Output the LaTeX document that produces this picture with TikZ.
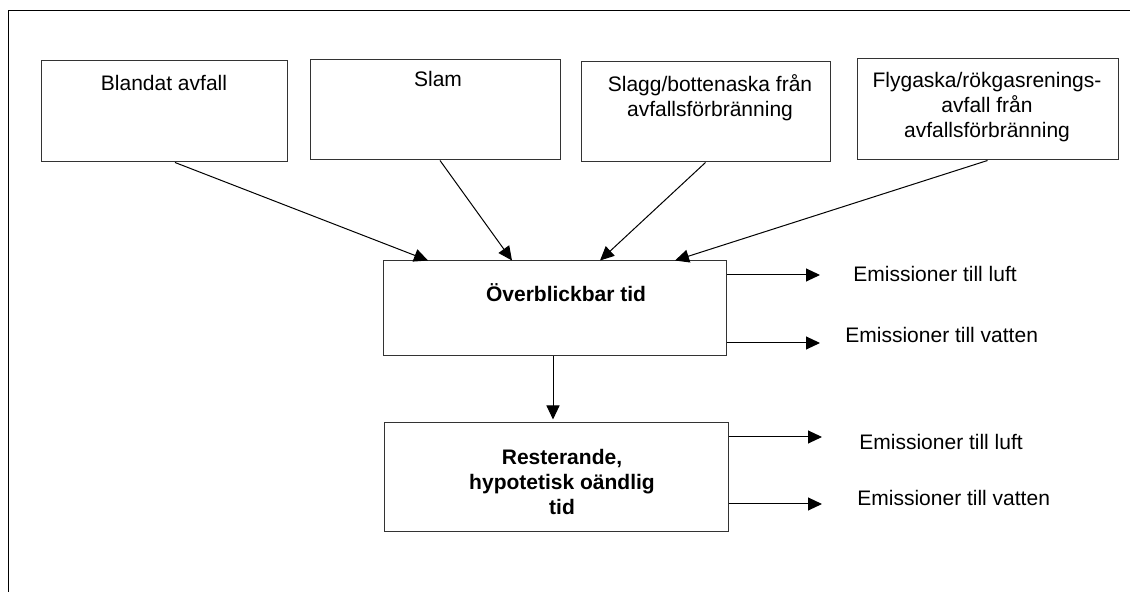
\documentclass[tikz,border=0pt]{standalone}
\usepackage{fontspec}
\setmainfont{Liberation Sans}
\usepackage{tikz}
\usetikzlibrary{shapes,arrows}
\usetikzlibrary{arrows.meta}
\usetikzlibrary{calc}

\begin{document}
\begin{tikzpicture}[x=0.5pt,y=-0.5pt,
   ruta/.style={draw=black!80,line width=0.5pt,inner sep=0pt},
   pil/.style={line width=0.5pt,-{Triangle[length=7pt,width=6.5pt]}},
   txt/.style={inner sep=0pt,align=center,font=\fontsize{10.5}{12.5}\selectfont}]
   \useasboundingbox (0,0) rectangle (1130,592);
   \draw[line width=0.5pt] (8,592) -- (8,11) -- (1130,11);
   % avfallsslag
   \node[ruta,minimum width=123pt,minimum height=50.5pt] (blandat) at (164,111.5) {};
   \node[ruta,minimum width=125pt,minimum height=50pt] (slam) at (435,110) {};
   \node[ruta,minimum width=124.5pt,minimum height=50pt] (slagg) at (705.5,112) {};
   \node[ruta,minimum width=130.5pt,minimum height=50.5pt] (flyg) at (987.5,109.5) {};
   \node[txt,anchor=base] (tblandat) at (164,91) {Blandat avfall};
   \node[txt,anchor=base] (tslam) at (438,87) {Slam};
   \node[txt,anchor=north] (tslagg) at (710,74.5) {Slagg/bottenaska från\\avfallsförbränning};
   \node[txt,anchor=north] (tflyg) at (987,71.5) {Flygaska/rökgasrenings-\\avfall från\\avfallsförbränning};
   % tidsperioder
   \node[ruta,minimum width=171.5pt,minimum height=47.5pt] (overbl) at (554.5,308.5) {};
   \node[txt,anchor=base,font=\fontsize{10.5}{12.5}\selectfont\bfseries] (toverbl) at (566,302) {Överblickbar tid};
   \node[ruta,minimum width=172pt,minimum height=54.5pt] (rest) at (556,477.5) {};
   \node[txt,anchor=north,font=\fontsize{10.5}{12.5}\selectfont\bfseries] (trest) at (562,448.5) {Resterande,\\hypotetisk oändlig\\tid};
   % pilar in
   \draw[pil] ($(blandat.south)+(11,0)$) -- ($(overbl.north)+(-126.5,0)$);
   \draw[pil] ($(slam.south)+(5,0)$) -- ($(overbl.north)+(-42.5,0)$);
   \draw[pil] (slagg.south) -- ($(overbl.north)+(45.5,0)$);
   \draw[pil] (flyg.south) -- ($(overbl.north)+(120.5,0)$);
   \draw[pil] ($(overbl.south)+(-1.5,0)$) -- ($(rest.north)+(-3,-3)$);
   % emissioner
   \coordinate (luft1) at (820,275);
   \coordinate (vatten1) at (820,343);
   \coordinate (luft2) at (822,437);
   \coordinate (vatten2) at (822,504);
   \draw[pil] (overbl.east |- luft1) -- (luft1);
   \draw[pil] (overbl.east |- vatten1) -- (vatten1);
   \draw[pil] (rest.east |- luft2) -- (luft2);
   \draw[pil] (rest.east |- vatten2) -- (vatten2);
   \node[txt,anchor=base west] (eluft1) at (853,282) {Emissioner till luft};
   \node[txt,anchor=base west] (evatten1) at (845,343) {Emissioner till vatten};
   \node[txt,anchor=base west] (eluft2) at (859,450) {Emissioner till luft};
   \node[txt,anchor=base west] (evatten2) at (857,506) {Emissioner till vatten};
\end{tikzpicture}
\end{document}
